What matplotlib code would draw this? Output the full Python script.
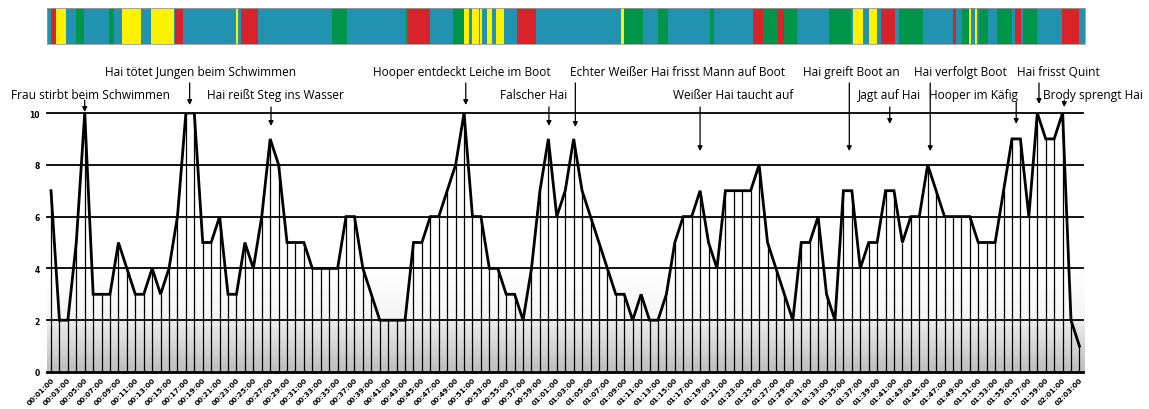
import numpy as np
import matplotlib
matplotlib.use("Agg")
import matplotlib.pyplot as plt

# one value per minute, 00:01:00 .. 02:03:00
minutes = np.arange(1, 124)
tension = [7, 2, 2, 5, 10, 3, 3, 3, 5, 4,
           3, 3, 4, 3, 4, 6, 10, 10, 5, 5,
           6, 3, 3, 5, 4, 6, 9, 8, 5, 5,
           5, 4, 4, 4, 4, 6, 6, 4, 3, 2,
           2, 2, 2, 5, 5, 6, 6, 7, 8, 10,
           6, 6, 4, 4, 3, 3, 2, 4, 7, 9,
           6, 7, 9, 7, 6, 5, 4, 3, 3, 2,
           3, 2, 2, 3, 5, 6, 6, 7, 5, 4,
           7, 7, 7, 7, 8, 5, 4, 3, 2, 5,
           5, 6, 3, 2, 7, 7, 4, 5, 5, 7,
           7, 5, 6, 6, 8, 7, 6, 6, 6, 6,
           5, 5, 5, 7, 9, 9, 6, 10, 9, 9,
           10, 2, 1]
tick_labels = ["%02d:%02d:00" % (m // 60, m % 60) for m in minutes[::2]]

# scene strip on top (boundaries in minutes, one colour code per segment)
strip_edges = [0.49, 1.00, 1.59, 2.74, 4.00, 4.91, 7.88, 8.47, 9.46, 11.71,
               12.86, 15.55, 15.67, 16.62, 22.95, 23.15, 23.50, 25.56, 34.33, 36.11,
               43.08, 43.38, 45.96, 48.72, 50.03, 50.55, 50.94, 51.81, 51.92, 52.09,
               52.68, 53.28, 53.79, 54.74, 56.31, 58.50, 68.62, 68.94, 71.19, 73.00,
               74.19, 79.17, 79.65, 84.27, 85.46, 87.20, 87.99, 89.49, 93.29, 95.90,
               96.17, 97.32, 97.99, 98.98, 99.45, 101.15, 101.59, 104.40, 108.03, 108.35,
               109.06, 109.89, 110.13, 110.61, 110.84, 111.12, 112.15, 113.22, 115.00, 115.39,
               116.07, 116.27, 117.93, 120.93, 122.98, 123.74]
strip_kinds = list("TRYTGTGTYTYTRTYTRTGTGRTGYTYTYTYTYTRTYGTGTGTRGRGTGTYTYTRTGTRTGYTYTGTGTRTGTRT")
kind_colors = {"T": "#2193b1", "R": "#d8232a", "Y": "#fff200", "G": "#00964a"}

# events: label, minute the arrow points at
events = ["Frau stirbt beim Schwimmen", "Hai tötet Jungen beim Schwimmen",
          "Hai reißt Steg ins Wasser", "Hooper entdeckt Leiche im Boot",
          "Falscher Hai", "Echter Weißer Hai frisst Mann auf Boot",
          "Weißer Hai taucht auf", "Hai greift Boot an", "Jagt auf Hai",
          "Hai verfolgt Boot", "Hooper im Käfig", "Hai frisst Quint",
          "Brody sprengt Hai"]
event_minutes = [5, 17.45, 27.1, 50.2, 60.07, 63.2, 78.0, 95.7, 100.5,
                 105.3, 115.5, 118.2, 121.2]

# layout of the labels (text centre x, row) and arrow extents (data units)
text_x = [5.69, 18.79, 27.63, 49.75, 58.30, 75.32, 81.90, 95.90, 100.52,
          108.83, 110.49, 120.45, 124.55]
text_row = [2, 1, 2, 1, 2, 1, 2, 1, 2, 1, 2, 1, 2]
arrow_top = [10.50, 11.16, 10.23, 11.16, 10.23, 11.16, 10.23, 11.16, 10.23,
             11.16, 10.42, 11.16, 10.50]
arrow_end = [10.04, 10.31, 9.50, 10.31, 9.50, 9.46, 8.53, 8.53, 9.58,
             8.53, 9.58, 10.35, 10.23]
row_y = {1: 11.62, 2: 10.73}

W, H = 1149, 410
fig = plt.figure(figsize=(W / 100, H / 100), dpi=100)
x0, x1 = 0.5255, 123.66

ax = fig.add_axes([47 / W, 37 / H, (1085 - 47) / W, (373 - 114) / H])
ax.set_xlim(x0, x1)
ax.set_ylim(0, 10)

# grey gradient background
yy = np.linspace(0, 10, 600)
shade = np.where(yy <= 2, 0.74 + 0.19 * yy / 2,
                 np.clip(0.96 + 0.04 * (yy - 2) / 2.0, 0, 1))
ax.imshow(shade[:, None], extent=[x0, x1, 0, 10], aspect="auto", origin="lower",
          cmap="gray", vmin=0, vmax=1, zorder=0)

gx = (1083 - 47) / (1085 - 47)
for y in [2, 4, 6, 8, 10]:
    ax.axhline(y, xmin=0, xmax=gx, color="black", lw=1.3, zorder=1, clip_on=False)
ax.axhline(0, xmin=0, xmax=gx, color="black", lw=2, zorder=3, clip_on=False)

ax.vlines(minutes, 0, tension, color="black", lw=0.9, zorder=2)
ax.plot(minutes, tension, color="black", lw=2, zorder=3, solid_joinstyle="miter")

for s in ax.spines.values():
    s.set_visible(False)
ax.set_xticks(minutes[::2])
ax.set_xticklabels(tick_labels, rotation=45, ha="right", va="top",
                   rotation_mode="anchor", fontsize=5.2, fontweight="bold")
ax.set_yticks([0, 2, 4, 6, 8, 10])
ax.set_yticklabels(["0", "2", "4", "6", "8", "10"], fontsize=5.5, fontweight="bold")
ax.tick_params(length=0, pad=5)
ax.tick_params(axis="x", pad=3)

for lab, em, tx, row, ya, yb in zip(events, event_minutes, text_x, text_row,
                                    arrow_top, arrow_end):
    ax.text(tx, row_y[row], lab, ha="center", va="center", fontsize=8.6,
            family="Open Sans", clip_on=False)
    ax.annotate("", xy=(em, yb), xytext=(em, ya), annotation_clip=False,
                arrowprops=dict(arrowstyle="-|>", color="black", lw=0.9,
                                mutation_scale=7, shrinkA=0, shrinkB=0))

# scene strip
sx = fig.add_axes([47 / W, (H - 45) / H, (1085 - 47) / W, 36 / H])
sx.set_xlim(x0, x1)
sx.set_ylim(0, 1)
for a, b, k in zip(strip_edges[:-1], strip_edges[1:], strip_kinds):
    sx.axvspan(a, b, color=kind_colors[k], lw=0)
sx.set_xticks([])
sx.set_yticks([])
for s in sx.spines.values():
    s.set_color("#9a9a9a")
    s.set_linewidth(0.6)

fig.savefig("out.png", dpi=100)
